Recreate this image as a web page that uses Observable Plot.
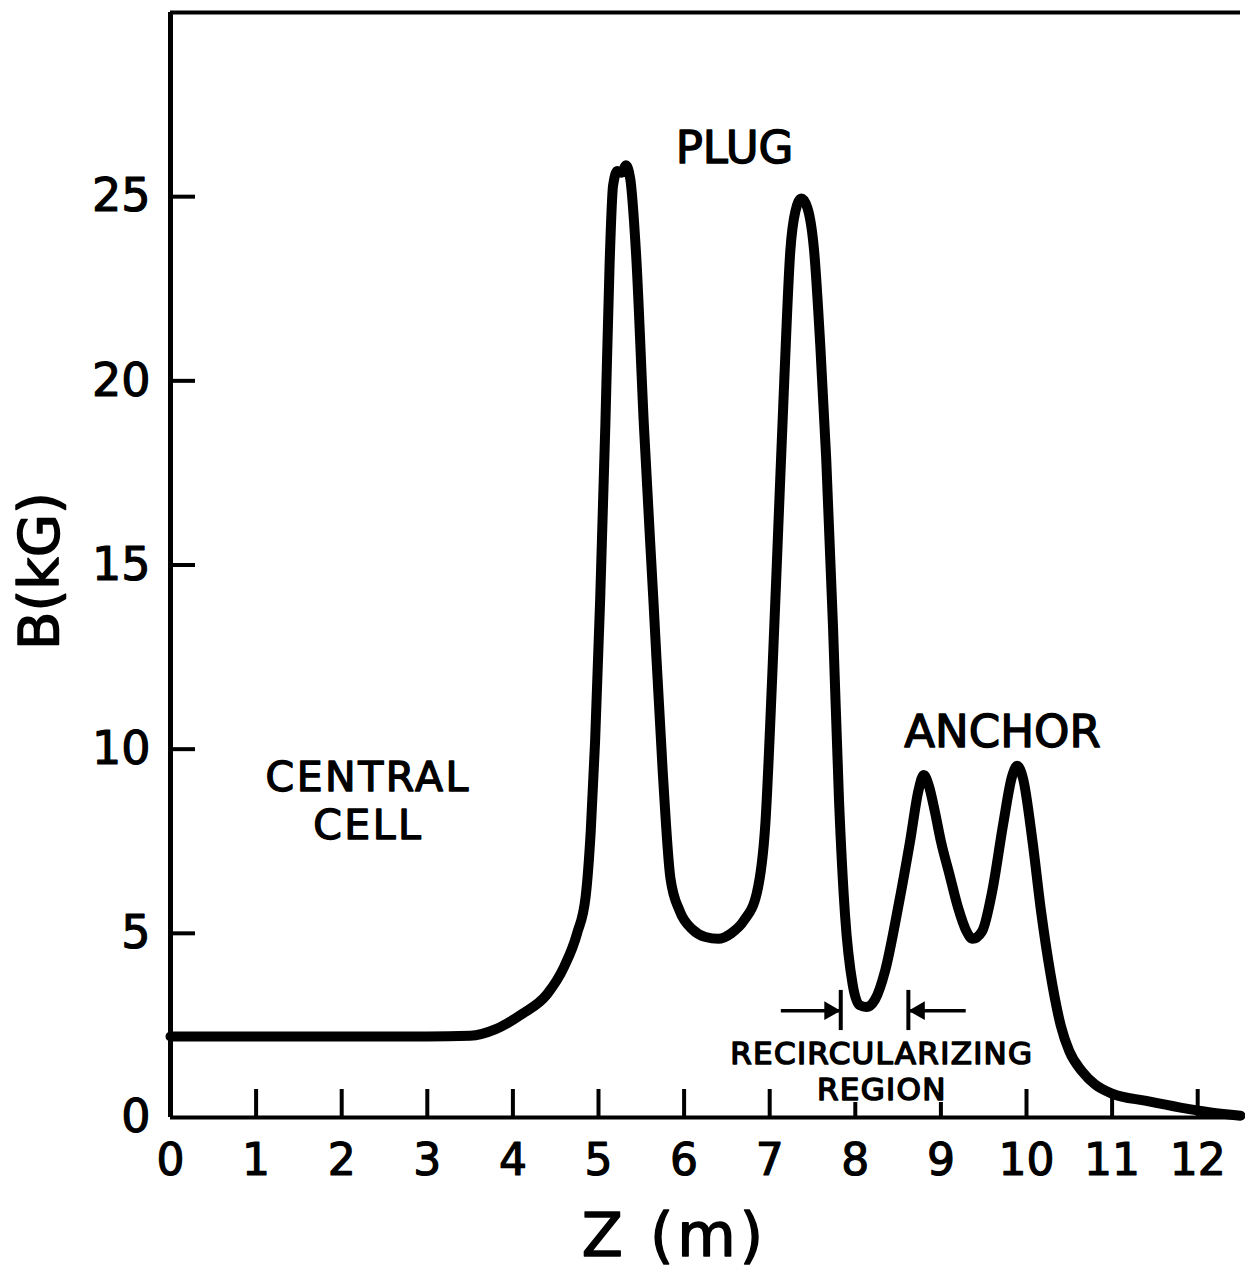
<!DOCTYPE html>
<html>
<head>
<meta charset="utf-8">
<script src="https://cdn.jsdelivr.net/npm/d3@7"></script>
<script src="https://cdn.jsdelivr.net/npm/@observablehq/plot@0.6"></script>
<style>
  html, body { margin: 0; padding: 0; background: white; }
</style>
</head>
<body>
<div id="chart"></div>
<script>
// ---- Data ----
const zValues = [0, 1, 2, 3, 3.5, 3.8, 4.1, 4.4, 4.6, 4.75, 4.85, 4.91, 4.96, 5.02, 5.08, 5.13, 5.17, 5.22, 5.27, 5.32, 5.37, 5.44, 5.53, 5.64, 5.75, 5.84, 5.95, 6.1, 6.25, 6.4, 6.55, 6.7, 6.85, 6.95, 7.03, 7.1, 7.17, 7.24, 7.3, 7.37, 7.44, 7.52, 7.59, 7.66, 7.74, 7.81, 7.88, 7.97, 8.05, 8.13, 8.23, 8.35, 8.5, 8.64, 8.74, 8.8, 8.86, 8.93, 9.0, 9.1, 9.2, 9.3, 9.37, 9.48, 9.6, 9.73, 9.83, 9.89, 9.96, 10.07, 10.17, 10.28, 10.4, 10.5, 10.65, 10.8, 11.0, 11.4, 11.8, 12.15, 12.5];
const bValues = [2.2, 2.2, 2.2, 2.2, 2.22, 2.4, 2.8, 3.35, 4.1, 5.0, 6.0, 7.8, 10.2, 14.1, 18.8, 23.2, 25.3, 25.7, 25.65, 25.85, 25.5, 23.4, 18.8, 14.1, 9.4, 6.5, 5.6, 5.1, 4.9, 4.85, 5.0, 5.35, 6.1, 8.0, 12.0, 16.0, 20.0, 23.5, 24.6, 24.95, 24.7, 23.5, 21.0, 17.9, 13.3, 8.6, 5.5, 3.6, 3.05, 3.0, 3.2, 4.0, 5.7, 7.5, 8.9, 9.3, 9.0, 8.3, 7.5, 6.6, 5.7, 5.05, 4.85, 5.05, 6.15, 8.0, 9.25, 9.55, 9.2, 7.5, 5.6, 3.9, 2.5, 1.8, 1.25, 0.9, 0.65, 0.45, 0.27, 0.14, 0.05];

const xTickLabels = [0, 1, 2, 3, 4, 5, 6, 7, 8, 9, 10, 11, 12];
const xTicksLong = [1, 2, 3, 4, 5, 6, 7, 10, 11, 12];
const xTicksShort = [8, 9];
const yTickLabels = [0, 5, 10, 15, 20, 25];
const yTickMarks = [5, 10, 15, 20, 25];
const xDomain = [0, 12.5];
const yDomain = [0, 30];

const xLabel = "Z (m)";
const yLabel = "B(kG)";

const annotationLabels = ["PLUG", "ANCHOR"];
const annotationZ = [6.59, 9.72];
const annotationB = [26.3, 10.46];

const cellLabel = "CENTRAL\nCELL";
const cellLabelZ = 2.31;
const cellLabelB = 8.62;

const regionLabel = "RECIRCULARIZING\nREGION";
const regionLabelZ = 8.31;
const regionLabelB = 1.28;

const regionBounds = [7.83, 8.62];   // vertical bars of the recircularizing region
const arrowTails = [7.13, 9.29];     // where each arrow starts
const arrowLevel = 2.9;              // B level of the arrows
const barLow = 2.36, barHigh = 3.45;

// ---- Build tables ----
const field = zValues.map((z, i) => ({z, B: bValues[i]}));
const annotations = annotationLabels.map((label, i) => ({label, z: annotationZ[i], B: annotationB[i]}));
const cellText = [{label: cellLabel, z: cellLabelZ, B: cellLabelB}];
const regionText = [{label: regionLabel, z: regionLabelZ, B: regionLabelB}];
const arrows = regionBounds.map((bound, i) => ({bound, tail: arrowTails[i], B: arrowLevel}));

const font = "DejaVu Sans";

const chart = Plot.plot({
  width: 1245,
  height: 1271,
  marginLeft: 170,
  marginRight: 5,
  marginTop: 12,
  marginBottom: 154,
  style: {fontFamily: font, background: "white", color: "black"},
  x: {domain: xDomain},
  y: {domain: yDomain},
  marks: [
    // frame lines
    Plot.ruleY([yDomain[1]], {strokeWidth: 4, stroke: "black"}),
    Plot.ruleY([0], {strokeWidth: 4, stroke: "black"}),
    Plot.ruleX([0], {strokeWidth: 5, stroke: "black"}),
    // x tick labels
    Plot.axisX(xTickLabels, {tickSize: 0, tickPadding: 26, fontSize: 44, label: null, textStroke: "black", textStrokeWidth: 1.2}),
    // inward x ticks
    Plot.axisX(xTicksLong, {text: null, tickSize: 28, dy: -28, strokeWidth: 4, label: null}),
    Plot.axisX(xTicksShort, {text: null, tickSize: 15, dy: -15, strokeWidth: 4, label: null}),
    // y tick labels
    Plot.axisY(yTickLabels, {tickSize: 0, tickPadding: 20, fontSize: 46, label: null, textStroke: "black", textStrokeWidth: 1.2}),
    // inward y ticks
    Plot.axisY(yTickMarks, {text: null, tickSize: 25, dx: 25, strokeWidth: 4, label: null}),
    // axis titles
    Plot.text([xLabel], {frameAnchor: "bottom", textAnchor: "middle", dy: 138, dx: -31, fontSize: 60, fill: "black", stroke: "black", strokeWidth: 1.5}),
    Plot.text([yLabel], {frameAnchor: "left", textAnchor: "middle", dx: -130, dy: 6, rotate: -90, fontSize: 56, fill: "black", stroke: "black", strokeWidth: 1.5}),
    // field curve
    Plot.line(field, {x: "z", y: "B", curve: "monotone-x", stroke: "black", strokeWidth: 10, strokeLinejoin: "round", strokeLinecap: "round"}),
    // annotations
    Plot.text(annotations, {x: "z", y: "B", text: "label", fontSize: 45, fill: "black", stroke: "black", strokeWidth: 1.4}),
    Plot.text(cellText, {x: "z", y: "B", text: "label", fontSize: 41, lineHeight: 1.17, fill: "black", stroke: "black", strokeWidth: 1.4}),
    Plot.text(regionText, {x: "z", y: "B", text: "label", fontSize: 31, lineHeight: 1.17, fill: "black", stroke: "black", strokeWidth: 1.6}),
    // recircularizing region arrows
    Plot.ruleX(regionBounds, {y1: barLow, y2: barHigh, strokeWidth: 4, stroke: "black"}),
    Plot.link(arrows, {x1: "tail", x2: "bound", y1: "B", y2: "B", strokeWidth: 3.5, stroke: "black"}),
    Plot.dot(arrows.slice(0, 1), {x: "bound", y: "B", symbol: "triangle", r: 7, rotate: 90, dx: -11, fill: "black", stroke: "none"}),
    Plot.dot(arrows.slice(1), {x: "bound", y: "B", symbol: "triangle", r: 7, rotate: -90, dx: 11, fill: "black", stroke: "none"})
  ]
});

// widen the hand-lettered labels a little (letter spacing is a style)
const spacing = new Map([["CENTRAL", 2.5], ["CELL", 2.5], ["RECIRCULARIZING", 1.3], ["REGION", 1.3], [xLabel, 4]]);
d3.select(chart).selectAll("text, tspan").each(function () {
  if (this.children && this.children.length) return;
  const s = spacing.get(this.textContent);
  if (s != null) {
    this.setAttribute("letter-spacing", s);
  }
});

document.getElementById("chart").appendChild(chart);
</script>
</body>
</html>
